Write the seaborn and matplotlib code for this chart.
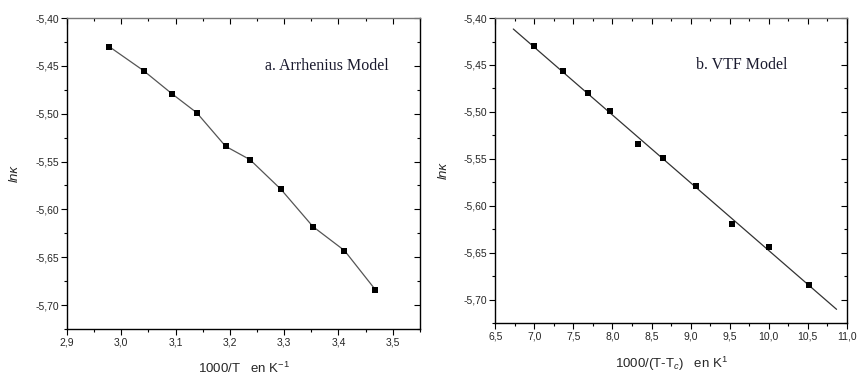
import numpy as np
import pandas as pd
import matplotlib
matplotlib.use("Agg")
import matplotlib.pyplot as plt
import seaborn as sns
from matplotlib.ticker import MultipleLocator, FuncFormatter

# ---- data ----
arr_x = [2.978, 3.041, 3.093, 3.139, 3.192, 3.237, 3.294, 3.353, 3.411, 3.468]
arr_y = [-5.430, -5.455, -5.479, -5.499, -5.534, -5.548, -5.579, -5.618, -5.643, -5.684]
vtf_x = [6.999, 7.370, 7.686, 7.968, 8.322, 8.642, 9.064, 9.525, 10.007, 10.523]
vtf_y = [-5.430, -5.456, -5.480, -5.499, -5.534, -5.549, -5.579, -5.619, -5.644, -5.684]
vtf_fit_range = [6.73, 10.87]

left_title = "a. Arrhenius Model"
right_title = "b. VTF Model"
left_xlabel = "1000/T   en K$^{-1}$"
right_xlabel = "1000/(T-T$_{c}$)   en K$^{1}$"
ylabel_text = "lnκ"

sns.set_theme(style="white")
plt.rcParams['font.family'] = ['Liberation Sans', 'DejaVu Sans']
plt.rcParams['axes.unicode_minus'] = False
plt.rcParams['mathtext.fontset'] = 'custom'
plt.rcParams['mathtext.rm'] = 'Liberation Sans'
plt.rcParams['mathtext.it'] = 'Liberation Sans:italic'

fig = plt.figure(figsize=(8.57, 3.76), dpi=100)
axL = fig.add_axes([0.0782, 0.125, 0.490 - 0.0782, 0.952 - 0.125])
axR = fig.add_axes([0.578, 0.141, 0.988 - 0.578, 0.952 - 0.141])

comma = FuncFormatter(lambda v, p: f"{v:.2f}".replace('.', ','))
comma1 = FuncFormatter(lambda v, p: f"{v:.1f}".replace('.', ','))

dfL = pd.DataFrame({"x": arr_x, "y": arr_y})
dfR = pd.DataFrame({"x": vtf_x, "y": vtf_y})

# left: connected points
sns.lineplot(data=dfL, x="x", y="y", ax=axL, color="#555555", lw=0.9, sort=False)
sns.scatterplot(data=dfL, x="x", y="y", ax=axL, marker="s", s=22, color="black",
                edgecolor="black", linewidth=0, zorder=3)

# right: points + linear fit
slope, intercept = np.polyfit(vtf_x, vtf_y, 1)
fx = np.array(vtf_fit_range)
dfFit = pd.DataFrame({"x": fx, "y": slope * fx + intercept})
sns.lineplot(data=dfFit, x="x", y="y", ax=axR, color="#333333", lw=0.9)
sns.scatterplot(data=dfR, x="x", y="y", ax=axR, marker="s", s=22, color="black",
                edgecolor="black", linewidth=0, zorder=3)

for ax, xlim, xmaj, xmin_, xl, title, tpos in [
    (axL, (2.9, 3.55), 0.1, 0.05, left_xlabel, left_title, (0.56, 0.845)),
    (axR, (6.5, 11.0), 0.5, 0.25, right_xlabel, right_title, (0.57, 0.845)),
]:
    ax.set_xlim(*xlim)
    ax.set_ylim(-5.725, -5.40)
    ax.xaxis.set_major_locator(MultipleLocator(xmaj))
    ax.xaxis.set_minor_locator(MultipleLocator(xmin_))
    ax.yaxis.set_major_locator(MultipleLocator(0.05))
    ax.yaxis.set_minor_locator(MultipleLocator(0.025))
    ax.xaxis.set_major_formatter(comma1)
    ax.yaxis.set_major_formatter(comma)
    ax.tick_params(which='both', direction='out', labelsize=7.5, color='black',
                   pad=2, bottom=True, left=True)
    ax.tick_params(which='major', length=4, width=0.8)
    ax.tick_params(which='minor', length=2.5, width=0.8)
    for side in ['left', 'bottom', 'right']:
        ax.spines[side].set_color('black')
        ax.spines[side].set_linewidth(1.0)
    ax.spines['top'].set_color('#777777')
    ax.spines['top'].set_linewidth(1.0)
    # inward mirror ticks on top and right
    sx = ax.secondary_xaxis('top')
    sx.xaxis.set_major_locator(MultipleLocator(xmaj))
    sx.xaxis.set_minor_locator(MultipleLocator(xmin_))
    sx.tick_params(which='both', direction='in', labeltop=False, color='black', width=0.8)
    sx.tick_params(which='major', length=4)
    sx.tick_params(which='minor', length=2.5)
    sx.spines['top'].set_visible(False)
    sy = ax.secondary_yaxis('right')
    sy.yaxis.set_major_locator(MultipleLocator(0.05))
    sy.yaxis.set_minor_locator(MultipleLocator(0.025))
    sy.tick_params(which='both', direction='in', labelright=False, color='black', width=0.8)
    sy.tick_params(which='major', length=4)
    sy.tick_params(which='minor', length=2.5)
    sy.spines['right'].set_visible(False)

    ax.set_xlabel(xl, fontsize=9.5, labelpad=10)
    ax.set_ylabel(ylabel_text, fontsize=9.5, style='italic', labelpad=10)
    ax.text(tpos[0], tpos[1], title, transform=ax.transAxes, fontsize=11.5,
            family=['Liberation Serif'], color='#1a1a2e', va='center')

fig.savefig("out.png", dpi=100)
